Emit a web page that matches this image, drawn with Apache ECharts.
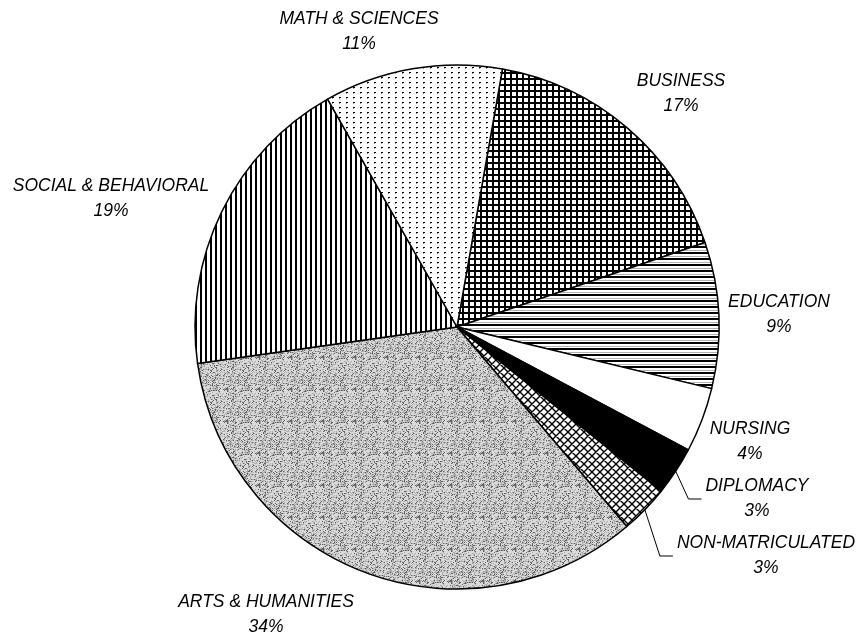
<!DOCTYPE html>
<html>
<head>
<meta charset="utf-8">
<script src="https://cdn.jsdelivr.net/npm/echarts@6/dist/echarts.min.js"></script>
<style>
  html, body { margin: 0; padding: 0; background: #fff; }
  #chart { width: 861px; height: 634px; }
</style>
</head>
<body>
<div id="chart"></div>
<script>
// Enrollment by division, clockwise from BUSINESS
const categories = ['BUSINESS', 'EDUCATION', 'NURSING', 'DIPLOMACY', 'NON-MATRICULATED',
                    'ARTS & HUMANITIES', 'SOCIAL & BEHAVIORAL', 'MATH & SCIENCES'];
const shares = [17, 9, 4, 3, 3, 34, 19, 11];

// Divisions whose labels are tied to their slice with a leader line
const leaderLines = ['DIPLOMACY', 'NON-MATRICULATED'];

// Centre of each two-line label block, in pixels
const labelSpots = {
  'BUSINESS': [681, 94],
  'EDUCATION': [779, 315],
  'NURSING': [750, 442],
  'DIPLOMACY': [757, 499],
  'NON-MATRICULATED': [766, 556],
  'ARTS & HUMANITIES': [266, 615],
  'SOCIAL & BEHAVIORAL': [111, 199],
  'MATH & SCIENCES': [359, 32]
};

// ---- monochrome fill patterns ----
function tile(w, h, draw) {
  const c = document.createElement('canvas');
  c.width = w; c.height = h;
  const g = c.getContext('2d');
  g.fillStyle = '#fff';
  g.fillRect(0, 0, w, h);
  draw(g, w, h);
  return c;
}
function pattern(canvas) { return { image: canvas, repeat: 'repeat' }; }

// integer hash used for a grainy screen-tone texture
function grain(x, y) {
  let h = Math.imul(x, 374761393) + Math.imul(y, 668265263);
  h = Math.imul(h ^ (h >>> 13), 1274126177);
  h ^= h >>> 16;
  return (h >>> 0) / 4294967296;
}

const fills = {
  // square grid
  'BUSINESS': pattern(tile(6, 6, g => {
    g.fillStyle = '#000';
    g.fillRect(0, 0, 2, 6);
    g.fillRect(0, 0, 6, 2);
  })),
  // horizontal rules
  'EDUCATION': pattern(tile(6, 6, g => {
    g.fillStyle = '#000';
    g.fillRect(0, 0, 6, 2);
    g.fillStyle = '#b0b0b0';
    g.fillRect(0, 4, 6, 1);
  })),
  'NURSING': '#ffffff',
  'DIPLOMACY': '#000000',
  // diagonal lattice
  'NON-MATRICULATED': pattern(tile(8, 8, g => {
    g.strokeStyle = '#000';
    g.lineWidth = 1.4;
    g.beginPath();
    for (let o = -8; o <= 8; o += 8) {
      g.moveTo(o, 0); g.lineTo(o + 8, 8);
      g.moveTo(o + 8, 0); g.lineTo(o, 8);
    }
    g.stroke();
  })),
  // fine grey stipple
  'ARTS & HUMANITIES': pattern(tile(32, 32, (g, w, h) => {
    g.fillStyle = '#dadada';
    g.fillRect(0, 0, w, h);
    for (let y = 0; y < h; y++) {
      for (let x = 0; x < w; x++) {
        const v = grain(x, y);
        if (v < 0.15) { g.fillStyle = '#606060'; g.fillRect(x, y, 1, 1); }
        else if (v < 0.40) { g.fillStyle = '#aaaaaa'; g.fillRect(x, y, 1, 1); }
      }
    }
  })),
  // vertical rules
  'SOCIAL & BEHAVIORAL': pattern(tile(5, 5, g => {
    g.fillStyle = '#000';
    g.fillRect(0, 0, 2, 5);
  })),
  // sparse dots
  'MATH & SCIENCES': pattern(tile(7, 5, g => {
    g.fillStyle = '#000';
    g.fillRect(3, 2, 2, 1);
    g.fillStyle = '#888';
    g.fillRect(3, 3, 1, 1);
  }))
};

const seriesData = categories.map((name, i) => ({
  name: name,
  value: shares[i],
  itemStyle: { color: fills[name] },
  labelLine: { show: leaderLines.includes(name) }
}));

const chart = echarts.init(document.getElementById('chart'), null, { renderer: 'canvas' });
chart.setOption({
  backgroundColor: '#fff',
  animation: false,
  series: [{
    type: 'pie',
    center: [457, 327],
    radius: 262,
    startAngle: 80,
    clockwise: true,
    avoidLabelOverlap: false,
    data: seriesData,
    itemStyle: { borderColor: '#000', borderWidth: 1.5 },
    emphasis: { disabled: true },
    label: {
      show: true,
      position: 'outside',
      formatter: p => p.name + '\n' + p.value + '%',
      fontFamily: '"Liberation Sans", Arial, sans-serif',
      fontStyle: 'italic',
      fontSize: 17.5,
      lineHeight: 25,
      color: '#000',
      align: 'center'
    },
    labelLine: {
      length: 10,
      length2: 10,
      lineStyle: { color: '#000', width: 1 }
    },
    labelLayout: function (params) {
      const name = categories[params.dataIndex];
      const spot = labelSpots[name];
      const out = { x: spot[0], y: spot[1], align: 'center', verticalAlign: 'middle' };
      if (leaderLines.includes(name) && params.labelLinePoints) {
        const left = spot[0] - params.labelRect.width / 2;
        out.labelLinePoints = [
          params.labelLinePoints[0],
          [left - 17, spot[1]],
          [left - 4, spot[1]]
        ];
      }
      return out;
    }
  }]
});
</script>
</body>
</html>
